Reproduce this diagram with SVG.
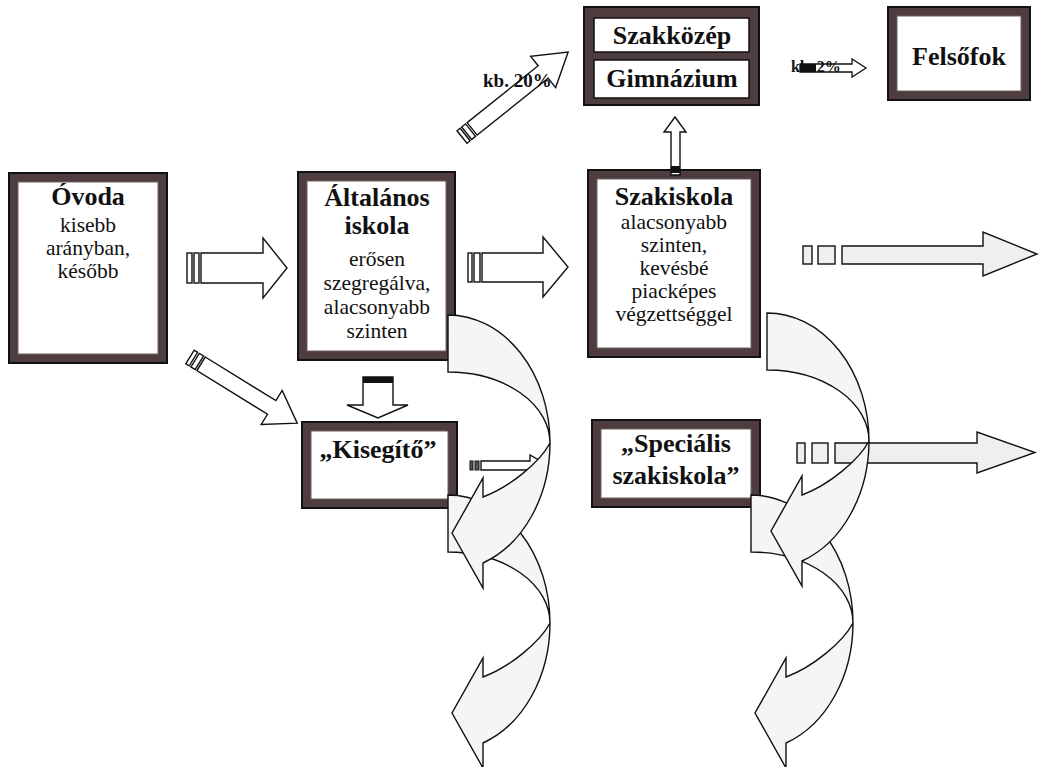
<svg xmlns="http://www.w3.org/2000/svg" width="1039" height="767" viewBox="0 0 1039 767">
<style>
.frame{fill:#4e3c3e;stroke:#111;stroke-width:2}
.inner{fill:#fff;stroke:#6e6062;stroke-width:1}
.innerk{fill:#fff;stroke:#111;stroke-width:1.5}
.t{font-family:"Liberation Serif","Times New Roman",serif;fill:#111;text-anchor:middle}
.b{font-weight:bold;font-size:26px}
.r{font-size:21.5px}
.lab{font-family:"Liberation Serif","Times New Roman",serif;font-weight:bold;fill:#111}
.arw{fill:#fff;stroke:#111;stroke-width:1.4;stroke-linejoin:miter}
.grey{fill:#efefef;stroke:#111;stroke-width:1.4}
.crv{fill:#f5f5f5;stroke:#111;stroke-width:1.4;stroke-linejoin:miter}
.blk{fill:#111}
</style>
<defs>
<g id="curved">
<path class="crv" d="M0,0 A102,128 0 0 1 102,128 A102,71 0 0 0 0,57 Z"/>
<path class="crv" d="M102,128 A102,128 0 0 1 35,248 L35,273 L4,218 L35,163 L35,182 C62,172 92,147 102,128 Z"/>
</g>
</defs>
<rect x="0" y="0" width="1039" height="767" fill="#fff"/>

<g id="ovoda">
<rect class="frame" x="9" y="173" width="158" height="190"/>
<rect class="inner" x="18" y="182" width="140" height="172"/>
<text class="t b" x="88" y="205">Óvoda</text>
<text class="t r" x="88" y="232">kisebb</text>
<text class="t r" x="88" y="255">arányban,</text>
<text class="t r" x="88" y="278">később</text>
</g>

<g id="altalanos">
<rect class="frame" x="298" y="172" width="157" height="188"/>
<rect class="inner" x="307" y="181" width="139" height="170"/>
<text class="t b" x="377" y="206">Általános</text>
<text class="t b" x="377" y="234">iskola</text>
<text class="t r" x="377" y="266">erősen</text>
<text class="t r" x="377" y="290">szegregálva,</text>
<text class="t r" x="377" y="314">alacsonyabb</text>
<text class="t r" x="377" y="338">szinten</text>
</g>

<g id="szakiskola">
<rect class="frame" x="588" y="170" width="172" height="187"/>
<rect class="inner" x="597" y="179" width="154" height="169"/>
<text class="t b" x="674" y="205">Szakiskola</text>
<text class="t r" x="674" y="229">alacsonyabb</text>
<text class="t r" x="674" y="252">szinten,</text>
<text class="t r" x="674" y="275">kevésbé</text>
<text class="t r" x="674" y="298">piacképes</text>
<text class="t r" x="674" y="321">végzettséggel</text>
</g>

<g id="kisegito">
<rect class="frame" x="302" y="422" width="155" height="86"/>
<rect class="inner" x="311" y="431" width="137" height="68"/>
<text class="t b" x="378" y="458">„Kisegítő”</text>
</g>

<g id="specialis">
<rect class="frame" x="592" y="420" width="168" height="87"/>
<rect class="inner" x="601" y="429" width="150" height="69"/>
<text class="t b" x="676" y="452">„Speciális</text>
<text class="t b" x="676" y="484">szakiskola”</text>
</g>

<g id="szakkozep-gimnazium">
<rect class="frame" x="584" y="7" width="175" height="98"/>
<rect class="innerk" x="594" y="18" width="155" height="34"/>
<rect class="innerk" x="594" y="60" width="155" height="38"/>
<text class="t b" x="672" y="44">Szakközép</text>
<text class="t b" x="672" y="87">Gimnázium</text>
</g>

<g id="felsofok">
<rect class="frame" x="888" y="7" width="142" height="93"/>
<rect class="inner" x="897" y="16" width="124" height="75"/>
<text class="t b" x="959" y="65">Felsőfok</text>
</g>

<g id="connectors">
<rect class="arw" x="187" y="253" width="5" height="30"/>
<rect class="arw" x="194" y="253" width="5" height="30"/>
<path class="arw" d="M201,253 H263 V238 L287,268 L263,298 V283 H201 Z"/>
<rect class="arw" x="468" y="253" width="4" height="29"/>
<rect class="arw" x="474" y="253" width="6" height="29"/>
<path class="arw" d="M482,253 H543 V237 L568,267 L543,297 V282 H482 Z"/>
<g transform="translate(190,357) rotate(31.7)">
<rect class="arw" x="0" y="-8" width="4" height="16"/>
<rect class="arw" x="6" y="-8" width="5" height="16"/>
<path class="arw" d="M13,-8 H96 V-20 L126,0 L96,20 V8 H13 Z"/>
</g>
<path class="arw" d="M363,377 H393 V405 H408 L378,418 L347,405 H363 Z"/>
<rect class="blk" x="363" y="377" width="30" height="6"/>
<g transform="translate(462,137) rotate(-38.7)">
<rect class="arw" x="0" y="-8" width="4" height="16"/>
<rect class="arw" x="6" y="-8" width="5" height="16"/>
<path class="arw" d="M13,-8 H104 V-20 L136,0 L104,20 V8 H13 Z"/>
</g>
<text class="lab" x="483" y="87" font-size="19">kb. 20%</text>
<path class="arw" d="M671,175 V132 H664 L675,117 L686,132 H680 V175 Z"/>
<rect class="blk" x="671" y="166" width="9" height="7"/>
<text class="lab" x="791" y="72" font-size="16">kb. 2%</text>
<path d="M800,64 H852 V59 L866,68 L852,77 V72 H800 Z" fill="none" stroke="#111" stroke-width="1.3"/>
<rect class="blk" x="800" y="64" width="16" height="8"/>
<rect class="grey" x="803" y="246" width="9" height="18"/>
<rect class="grey" x="818" y="246" width="17" height="18"/>
<path class="grey" d="M842,246 H983 V232 L1037,254 L983,276 V264 H842 Z"/>
<rect class="grey" x="797" y="443" width="8" height="20"/>
<rect class="grey" x="812" y="443" width="16" height="20"/>
<path class="grey" d="M835,443 H977 V432 L1035,452.5 L977,473 V463 H835 Z"/>
<rect fill="#555" stroke="#111" stroke-width="1" x="470" y="461" width="3" height="9"/>
<rect fill="#555" stroke="#111" stroke-width="1" x="475" y="461" width="4" height="9"/>
<path class="arw" d="M481,461 H530 V455 L548,465.5 L530,476 V470 H481 Z"/>
<use href="#curved" transform="translate(448,495)"/>
<use href="#curved" transform="translate(448,315)"/>
<use href="#curved" transform="translate(751,495)"/>
<use href="#curved" transform="translate(767,313)"/>
</g>
</svg>
